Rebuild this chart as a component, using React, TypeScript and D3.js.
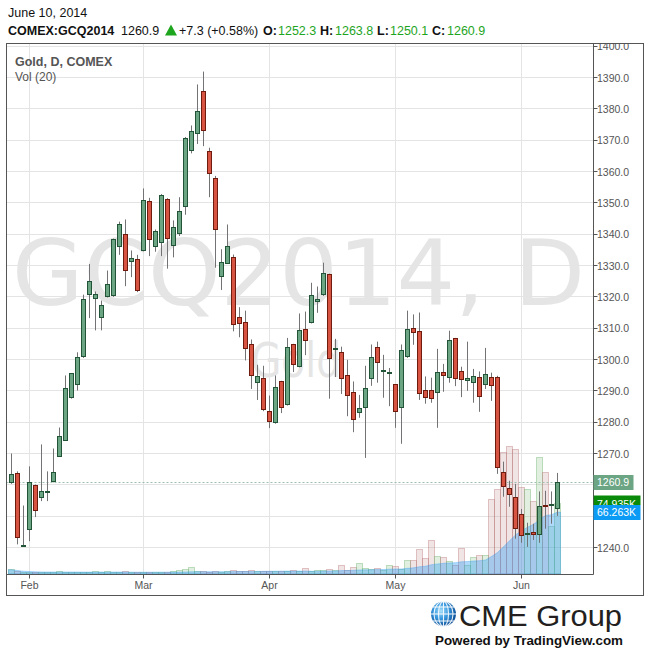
import React from "react";
import * as d3 from "d3";

// ---- data ----
const opens = [
  1260.6, 1263.5, 1240.2, 1245.6, 1259.7, 1255.9, 1257.7, 1261.0, 1269.1, 1274.3,
  1287.8, 1291.9, 1301.0, 1320.6, 1319.4, 1313.3, 1320.0, 1320.3, 1336.0, 1339.8,
  1331.2, 1331.8, 1334.7, 1350.3, 1336.0, 1337.5, 1351.0, 1336.3, 1340.1, 1348.8,
  1366.6, 1372.0, 1385.7, 1366.3, 1357.8, 1326.4, 1330.8, 1332.5, 1313.3, 1311.7,
  1304.7, 1292.6, 1293.8, 1283.3, 1279.8, 1292.9, 1285.5, 1304.7, 1297.7, 1309.5,
  1311.7, 1318.4, 1320.6, 1327.0, 1303.3, 1302.1, 1294.8, 1289.4, 1283.2, 1284.6,
  1293.8, 1303.7, 1296.4, 1295.5, 1291.9, 1284.6, 1300.9, 1309.8, 1308.8, 1290.0,
  1290.0, 1289.4, 1295.8, 1294.2, 1306.6, 1296.1, 1293.2, 1292.6, 1294.2, 1291.9,
  1294.2, 1294.2, 1263.8, 1258.7, 1255.9, 1250.4, 1244.2, 1244.7, 1244.0, 1253.3,
  1253.3, 1252.3,
];
const highs = [
  1270.0, 1264.3, 1253.4, 1265.9, 1260.1, 1272.9, 1264.3, 1271.6, 1278.3, 1294.9,
  1295.6, 1302.3, 1320.7, 1330.5, 1321.7, 1318.8, 1328.4, 1338.6, 1344.0, 1344.7,
  1334.8, 1333.4, 1354.6, 1351.6, 1341.5, 1352.8, 1351.5, 1344.4, 1351.8, 1371.0,
  1374.7, 1387.8, 1391.9, 1367.6, 1358.6, 1335.2, 1343.1, 1333.5, 1316.7, 1315.6,
  1306.4, 1298.3, 1298.0, 1288.5, 1294.9, 1293.2, 1306.9, 1305.0, 1314.7, 1315.3,
  1324.5, 1323.3, 1330.9, 1327.4, 1306.6, 1304.1, 1299.9, 1293.0, 1288.7, 1298.0,
  1304.8, 1305.7, 1301.5, 1297.3, 1292.2, 1304.8, 1315.6, 1314.4, 1315.0, 1294.6,
  1294.2, 1303.4, 1298.6, 1309.2, 1306.9, 1297.7, 1305.7, 1297.0, 1296.2, 1303.7,
  1295.8, 1294.8, 1267.4, 1261.3, 1260.3, 1252.3, 1247.9, 1247.6, 1257.9, 1258.1,
  1257.9, 1263.8,
];
const lows = [
  1260.3, 1241.0, 1240.2, 1242.0, 1249.7, 1254.8, 1254.8, 1260.8, 1269.0, 1274.0,
  1287.5, 1290.1, 1300.5, 1313.2, 1309.3, 1309.3, 1319.8, 1320.0, 1333.4, 1323.4,
  1326.3, 1321.5, 1334.5, 1333.0, 1334.4, 1333.0, 1329.0, 1332.6, 1339.4, 1346.2,
  1365.8, 1368.8, 1368.1, 1351.8, 1329.3, 1322.2, 1330.5, 1309.0, 1307.1, 1299.7,
  1290.6, 1287.1, 1283.5, 1278.1, 1279.5, 1282.9, 1285.3, 1296.0, 1297.5, 1301.4,
  1311.5, 1314.9, 1320.3, 1287.5, 1294.4, 1289.0, 1281.9, 1276.8, 1281.4, 1268.6,
  1291.6, 1292.6, 1287.8, 1285.1, 1278.2, 1273.1, 1300.5, 1304.7, 1287.1, 1285.9,
  1286.2, 1278.2, 1289.7, 1292.6, 1291.5, 1288.0, 1290.0, 1286.2, 1283.3, 1290.6,
  1286.8, 1263.5, 1256.2, 1253.0, 1242.8, 1241.5, 1240.2, 1242.4, 1241.5, 1246.0,
  1247.6, 1250.1,
];
const closes = [
  1263.2, 1243.3, 1240.5, 1260.6, 1251.7, 1257.8, 1257.9, 1263.8, 1275.3, 1290.6,
  1295.4, 1300.5, 1319.0, 1324.8, 1320.6, 1317.1, 1323.8, 1338.2, 1343.0, 1328.3,
  1332.1, 1321.9, 1350.6, 1338.2, 1340.9, 1352.2, 1338.5, 1342.0, 1347.1, 1370.7,
  1372.7, 1379.1, 1373.0, 1359.3, 1341.4, 1330.9, 1336.0, 1311.1, 1311.4, 1303.4,
  1294.8, 1294.5, 1283.9, 1280.1, 1291.0, 1284.6, 1303.7, 1298.3, 1309.2, 1306.0,
  1320.3, 1319.0, 1327.4, 1300.2, 1303.5, 1293.8, 1288.4, 1280.8, 1284.3, 1290.6,
  1300.5, 1298.9, 1296.6, 1295.9, 1283.3, 1302.9, 1309.5, 1308.5, 1289.0, 1287.8,
  1287.6, 1295.8, 1294.8, 1306.0, 1293.8, 1293.5, 1293.8, 1294.5, 1288.1, 1295.1,
  1291.6, 1265.4, 1259.4, 1256.8, 1246.0, 1243.7, 1244.4, 1244.0, 1253.0, 1253.0,
  1253.6, 1260.9,
];
// volume, thousands of contracts
const volumes = [
  4.6, 2.9, 1.6, 1.3, 1.4, 1.6, 1.8, 2.1, 2.4, 2.1,
  1.9, 1.6, 1.8, 2.1, 2.4, 2.1, 2.5, 2.1, 1.9, 2.7,
  1.6, 1.9, 1.6, 1.4, 1.7, 1.9, 2.1, 2.7, 3.5, 4.6,
  6.7, 2.7, 2.4, 2.1, 2.4, 2.1, 2.5, 3.5, 3.0, 2.7,
  3.5, 2.9, 2.7, 2.8, 3.1, 3.2, 3.0, 3.4, 3.2, 5.7,
  3.2, 3.4, 3.7, 5.0, 4.1, 9.3, 3.7, 7.2, 11.4, 6.4,
  4.3, 6.1, 4.0, 9.3, 8.2, 5.0, 14.7, 14.7, 26.4, 16.8,
  36.1, 18.9, 17.9, 13.2, 9.6, 27.8, 8.6, 17.9, 20.0, 20.0,
  79.9, 90.6, 130.0, 136.0, 133.0, 92.8, 90.6, 77.8, 125.0, 108.8,
  50.825, 74.935,
];
const monthLabels = ["Feb", "Mar", "Apr", "May", "Jun"];
const monthStartIndex = [3, 22, 43, 64, 85];
const priceTicks = [1240, 1250, 1260, 1270, 1280, 1290, 1300, 1310, 1320, 1330, 1340, 1350, 1360, 1370, 1380, 1390, 1400];
const hiddenTickLabels = [1250, 1260]; // covered by the value boxes in the reference
const symbol = "COMEX:GCQ2014";
const dateLabel = "June 10, 2014";
const titleLabel = "Gold, D, COMEX";
const volLabel = "Vol (20)";
const watermark = "GCQ2014, D";
const watermarkSub = "Gold";

const FONT = "'Liberation Sans', Arial, sans-serif";
const GREEN_FILL = "#6ba583";
const GREEN_STROKE = "#225437";
const RED_FILL = "#d75442";
const RED_STROKE = "#6f1b0e";
const WICK = "#737375";
const GRID = "#e4e4e4";
const AXIS = "#555";
const TXT_GREEN = "#1ea51e";

export default function App() {
  const N = closes.length;
  const left = 6.5, top = 43.5, right = 643.5, bottom = 595.5;
  const plotRight = 593.5, plotBottom = 574.5;

  const x = d3.scaleLinear().domain([0, N - 1]).range([11.5, 11.5 + 6 * (N - 1)]);
  const y = d3.scaleLinear().domain([1240, 1400]).range([547.5, 46.2]);
  const vy = d3.scaleLinear().domain([0, 107]).range([574, 474]);

  const ma = volumes.map((_, i) => d3.mean(volumes.slice(Math.max(0, i - 19), i + 1)) as number);
  const areaPts = [
    { px: x(0) - 3, v: ma[0] },
    ...ma.map((v, i) => ({ px: x(i), v })),
    { px: x(N - 1) + 3, v: ma[N - 1] },
  ];
  const areaGen = d3.area<{ px: number; v: number }>()
    .x((d) => d.px)
    .y0(vy(0))
    .y1((d) => vy(d.v));

  const snap = (v: number) => Math.round(v - 0.5) + 0.5;

  const last = N - 1;
  const chg = closes[last] - closes[last - 1];
  const pct = (chg / closes[last - 1]) * 100;
  const f1 = d3.format(".1f");
  const fs1 = d3.format("+.1f");
  const fs2 = d3.format("+.2f");
  const f3 = d3.format(".3f");

  const lastY = y(closes[last]);
  const volLastY = vy(volumes[last]);
  const maLastY = vy(ma[last]);
  const maBoxTop = snap(maLastY) - 7.5;

  return (
    <svg width={650} height={652} style={{ position: "absolute", left: 0, top: 0, background: "#fff" }} fontFamily={FONT}>
      <defs>
        <clipPath id="plot">
          <rect x={left} y={top} width={plotRight - left} height={plotBottom - top} />
        </clipPath>
        <clipPath id="axisClip">
          <rect x={plotRight} y={top} width={right - plotRight} height={plotBottom - top + 6} />
        </clipPath>
        <clipPath id="volLabelClip">
          <rect x={plotRight} y={top} width={right - plotRight} height={maBoxTop - top} />
        </clipPath>
        <radialGradient id="globe" cx="40%" cy="38%" r="65%">
          <stop offset="0%" stopColor="#a9e0fa" />
          <stop offset="45%" stopColor="#3a9be0" />
          <stop offset="100%" stopColor="#0b4a92" />
        </radialGradient>
      </defs>

      {/* header */}
      <text x={8} y={17} fontSize={12.5} fill="#111">{dateLabel}</text>
      <text y={35} fontSize={12.5} fill="#111">
        <tspan x={8} fontWeight="bold">{symbol}</tspan>
        <tspan x={121}>{f1(closes[last])}</tspan>
      </text>
      <path d="M165,35.5 L171,24.5 L177,35.5 Z" fill={TXT_GREEN} />
      <text y={35} fontSize={12.5} fill="#111">
        <tspan x={179}>{`${fs1(chg)} (${fs2(pct)}%)`}</tspan>
        <tspan x={263} fontWeight="bold">O:</tspan>
        <tspan x={278} fill={TXT_GREEN}>{f1(opens[last])}</tspan>
        <tspan x={320} fontWeight="bold">H:</tspan>
        <tspan x={335} fill={TXT_GREEN}>{f1(highs[last])}</tspan>
        <tspan x={377} fontWeight="bold">L:</tspan>
        <tspan x={390} fill={TXT_GREEN}>{f1(lows[last])}</tspan>
        <tspan x={432} fontWeight="bold">C:</tspan>
        <tspan x={447} fill={TXT_GREEN}>{f1(closes[last])}</tspan>
      </text>

      {/* plot */}
      <g clipPath="url(#plot)">
        <text x={12} y={305} fontSize={90} fontFamily="'DejaVu Sans', sans-serif" fill="#e5e5e5"
          textLength={573} lengthAdjust="spacingAndGlyphs">{watermark}</text>
        <text x={251} y={377} fontSize={48} fontFamily="'DejaVu Sans', sans-serif" fill="#e5e5e5"
          textLength={90} lengthAdjust="spacingAndGlyphs">{watermarkSub}</text>

        {priceTicks.map((p) => (
          <line key={"h" + p} x1={left} x2={plotRight} y1={snap(y(p))} y2={snap(y(p))} stroke={GRID} />
        ))}
        {monthStartIndex.map((i) => (
          <line key={"v" + i} x1={x(i)} x2={x(i)} y1={top} y2={plotBottom} stroke={GRID} />
        ))}

        {/* volume */}
        {volumes.map((v, i) => {
          const up = closes[i] >= opens[i];
          const yt = snap(vy(v));
          return (
            <rect key={"vb" + i} x={x(i) - 3} y={yt} width={6} height={Math.max(0, vy(0) - yt)}
              fill={up ? "rgba(130,190,130,0.24)" : "rgba(190,130,130,0.22)"}
              stroke={up ? "rgba(120,185,120,0.45)" : "rgba(185,120,120,0.42)"} strokeWidth={1} />
          );
        })}
        <path d={areaGen(areaPts) || ""} fill="rgba(33,150,243,0.36)" stroke="rgba(33,150,243,0.3)" strokeWidth={1} />

        <line x1={left} x2={plotRight} y1={snap(lastY)} y2={snap(lastY)} stroke="#9dbfae" strokeDasharray="2,2" />

        {/* candles */}
        {closes.map((c, i) => {
          const o = opens[i];
          const up = c >= o;
          const cx = x(i);
          const y1 = snap(y(Math.max(o, c)));
          const y2 = snap(y(Math.min(o, c)));
          return (
            <g key={"c" + i}>
              <line x1={cx} x2={cx} y1={y(highs[i])} y2={y(lows[i])} stroke={WICK} strokeWidth={1} />
              <rect x={cx - 2} y={y1} width={4} height={Math.max(1, y2 - y1)}
                fill={up ? GREEN_FILL : RED_FILL} stroke={up ? GREEN_STROKE : RED_STROKE} strokeWidth={1} />
            </g>
          );
        })}
      </g>

      {/* frame */}
      <rect x={left} y={top} width={right - left} height={bottom - top} fill="none" stroke={AXIS} />
      <line x1={plotRight} x2={plotRight} y1={top} y2={plotBottom} stroke={AXIS} />
      <line x1={left} x2={plotRight} y1={plotBottom} y2={plotBottom} stroke={AXIS} />

      <text x={15} y={66} fontSize={12.5} fontWeight="bold" fill="#555">{titleLabel}</text>
      <text x={15} y={81} fontSize={12} fill="#555">{volLabel}</text>

      {/* price axis */}
      <g clipPath="url(#axisClip)">
        {priceTicks.map((p) => (
          <g key={"pt" + p}>
            <line x1={plotRight} x2={plotRight + 4} y1={snap(y(p))} y2={snap(y(p))} stroke={AXIS} />
            {hiddenTickLabels.includes(p) ? null : (
              <text x={597} y={y(p) + 4} fontSize={10.5} fill="#555">{f1(p)}</text>
            )}
          </g>
        ))}
      </g>
      <rect x={plotRight} y={snap(lastY) - 7.5} width={40} height={15} fill={GREEN_FILL} />
      <text x={597} y={lastY + 4} fontSize={10.5} fill="#fff">{f1(closes[last])}</text>
      <g clipPath="url(#volLabelClip)">
        <rect x={plotRight} y={snap(volLastY) - 8} width={47} height={16} fill="#0a8a0a" />
        <text x={597} y={volLastY + 4} fontSize={10.5} fill="#fff">{f3(volumes[last]) + "K"}</text>
      </g>
      <rect x={plotRight} y={maBoxTop} width={47} height={15} fill="#0b9bf5" />
      <text x={597} y={maLastY + 4} fontSize={10.5} fill="#fff">{f3(ma[last]) + "K"}</text>

      {/* time axis */}
      {monthStartIndex.map((i, k) => (
        <g key={"m" + i}>
          <line x1={x(i)} x2={x(i)} y1={plotBottom} y2={plotBottom + 4} stroke={AXIS} />
          <text x={x(i)} y={589} fontSize={10.5} fill="#555" textAnchor="middle">{monthLabels[k]}</text>
        </g>
      ))}

      {/* logo */}
      <g>
        <circle cx={443.5} cy={614} r={12.5} fill="url(#globe)" />
        <g stroke="#fff" strokeWidth={1.1} fill="none" opacity={0.9}>
          <ellipse cx={443.5} cy={614} rx={5} ry={12.5} />
          <line x1={443.5} x2={443.5} y1={601.5} y2={626.5} />
          <line x1={431} x2={456} y1={614} y2={614} />
          <line x1={433} x2={454} y1={607} y2={607} />
          <line x1={433} x2={454} y1={621} y2={621} />
          <ellipse cx={443.5} cy={614} rx={9.5} ry={12.5} />
        </g>
        <text x={459} y={626} fontSize={30} fill="#231f20" textLength={163} lengthAdjust="spacingAndGlyphs">CME Group</text>
        <text x={435} y={645} fontSize={13} fontWeight="bold" fill="#111" textLength={188} lengthAdjust="spacingAndGlyphs">Powered by TradingView.com</text>
      </g>
    </svg>
  );
}
